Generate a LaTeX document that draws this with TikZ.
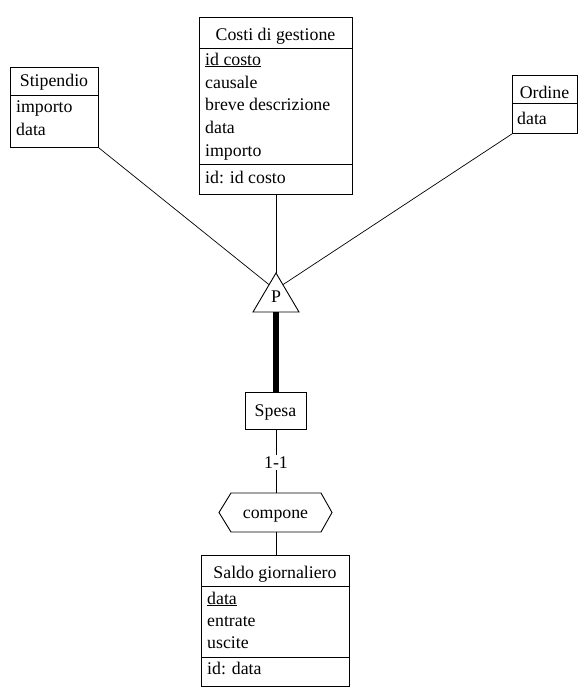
\documentclass[tikz,border=0pt]{standalone}
\usepackage{fontspec}
\setmainfont{Liberation Serif}
\usetikzlibrary{calc}
\begin{document}
\begin{tikzpicture}[x=1pt,y=-1pt,
  every node/.style={font=\fontsize{17.8}{22}\selectfont},
  ebox/.style={draw,line width=0.9pt,anchor=north west,inner sep=0pt},
  txt/.style={anchor=base west,inner sep=0pt},
  ttl/.style={anchor=base,inner sep=0pt},
  conn/.style={line width=0.7pt},
  sep/.style={line width=0.9pt}]
\useasboundingbox (0,0) rectangle (588,699);
% Costi di gestione
\node[ebox,minimum width=153,minimum height=177] (costi) at (199,17) {};
\draw[sep] ($(costi.north west)+(0,31)$) -- ($(costi.north east)+(0,31)$);
\draw[sep] ($(costi.north west)+(0,147)$) -- ($(costi.north east)+(0,147)$);
\node[ttl] (costiT) at (275.5,40) {Costi di gestione};
\node[txt] (c1) at (205,65) {\underline{id costo}};
\node[txt] (c2) at (205,88) {causale};
\node[txt] (c3) at (205,110.5) {breve descrizione};
\node[txt] (c4) at (205,133) {data};
\node[txt] (c5) at (205,156) {importo};
\node[txt] (c6) at (205,183) {id: id costo};
% Stipendio
\node[ebox,minimum width=88,minimum height=80] (stip) at (10,67) {};
\draw[sep] ($(stip.north west)+(0,28)$) -- ($(stip.north east)+(0,28)$);
\node[ttl] (stipT) at (54,86) {Stipendio};
\node[txt] (s1) at (16,112) {importo};
\node[txt] (s2) at (16,135) {data};
% Ordine
\node[ebox,minimum width=65,minimum height=58] (ord) at (512,75) {};
\draw[sep] ($(ord.north west)+(0,28)$) -- ($(ord.north east)+(0,28)$);
\node[ttl] (ordT) at (544.5,98) {Ordine};
\node[txt] (o1) at (517,124) {data};
% Triangle P
\coordinate (apex) at (276,273);
\coordinate (tl) at (253,312);
\coordinate (tr) at (299,312);
\coordinate (tb) at (276,312);
\draw[line width=0.9pt] (apex) -- (tl) -- (tr) -- cycle;
\node[ttl] (P) at (276,302) {P};
\coordinate (tleft) at ($(apex)!0.3!(tl)$);
\coordinate (tright) at ($(apex)!0.3!(tr)$);
\draw[conn] (costi.south -| apex) -- (apex);
\draw[conn] (stip.south east) -- (tleft);
\draw[conn] (ord.south west) -- (tright);
% Spesa
\node[ebox,minimum width=61,minimum height=37] (spesa) at (245,392) {};
\node[ttl] (spesaT) at (275.5,416) {Spesa};
\draw[line width=6pt] (tb) -- (tb |- spesa.north);
% compone
\coordinate (h1) at (219,512.5);
\coordinate (h2) at (231,493);
\coordinate (h3) at (321,493);
\coordinate (h4) at (332,512.5);
\coordinate (h5) at (321,532);
\coordinate (h6) at (231,532);
\draw[line width=0.9pt] (h1) -- (h2) -- (h3) -- (h4) -- (h5) -- (h6) -- cycle;
\node[ttl] (comp) at (275.5,518) {compone};
\coordinate (compN) at (276,493);
\coordinate (compS) at (276,532);
\draw[conn] (spesa.south -| compN) -- (compN);
\node[ttl,fill=white,inner sep=1.5pt] (card) at (276,468) {1-1};
% Saldo giornaliero
\node[ebox,minimum width=148,minimum height=131] (saldo) at (201,555) {};
\draw[sep] ($(saldo.north west)+(0,31)$) -- ($(saldo.north east)+(0,31)$);
\draw[sep] ($(saldo.north west)+(0,102)$) -- ($(saldo.north east)+(0,102)$);
\node[ttl] (saldoT) at (275,578) {Saldo giornaliero};
\node[txt] (g1) at (207,604) {\underline{data}};
\node[txt] (g2) at (207,626) {entrate};
\node[txt] (g3) at (207,648) {uscite};
\node[txt] (g4) at (207,674) {id: data};
\draw[conn] (compS) -- (compS |- saldo.north);
\end{tikzpicture}
\end{document}
